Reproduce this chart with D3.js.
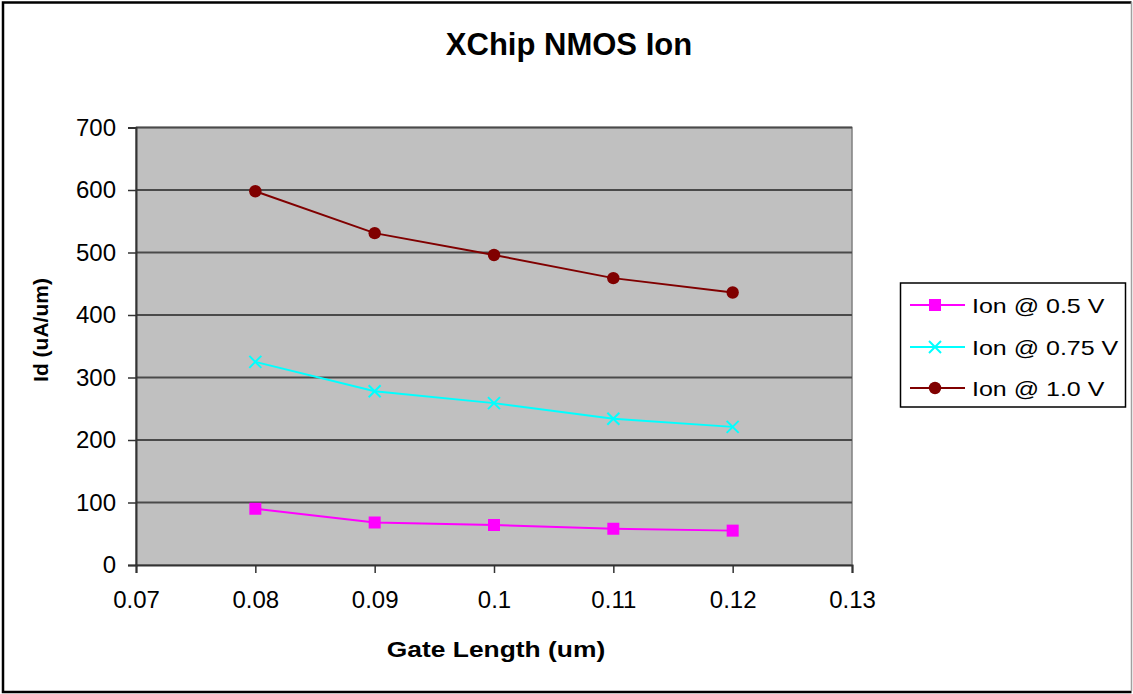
<!DOCTYPE html>
<html>
<head>
<meta charset="utf-8">
<script src="https://cdn.jsdelivr.net/npm/d3@7/dist/d3.min.js"></script>
<style>
  html, body { margin: 0; padding: 0; background: #fff; }
  svg { display: block; font-family: "Liberation Sans", Arial, sans-serif; }
</style>
</head>
<body>
<svg id="chart" width="1133" height="694"></svg>
<script>
// Gate lengths (um)
const gateLengths = [0.08, 0.09, 0.10, 0.11, 0.12];
// Drive current Id (uA/um) at each gate bias
const ion05  = [90, 68, 64, 58, 55];
const ion075 = [325, 278, 259, 234, 221];
const ion10  = [598, 531, 496, 459, 436];

const seriesNames = ["Ion @ 0.5 V", "Ion @ 0.75 V", "Ion @ 1.0 V"];
const xTicks = [0.07, 0.08, 0.09, 0.10, 0.11, 0.12, 0.13];
const yTicks = [0, 100, 200, 300, 400, 500, 600, 700];

const series = [
  { name: seriesNames[0], values: ion05,  color: "#ff00ff", marker: "square" },
  { name: seriesNames[1], values: ion075, color: "#00ffff", marker: "cross" },
  { name: seriesNames[2], values: ion10,  color: "#800000", marker: "circle" }
];

const svg = d3.select("#chart");
const W = 1133, H = 694;
const plot = { left: 136, top: 127.5, right: 852, bottom: 565 };

// outer frame: black on top, left, bottom; grey on the right
const frame = svg.append("g");
frame.append("rect").attr("x", 0).attr("y", 0).attr("width", W).attr("height", H).attr("fill", "#fff");
frame.append("path").attr("d", `M${W - 1.5},2.5H3V${H - 2}H${W - 1.5}`)
  .attr("fill", "none").attr("stroke", "#000").attr("stroke-width", 2.5);
frame.append("line").attr("x1", W - 1.5).attr("x2", W - 1.5).attr("y1", 2).attr("y2", H - 3)
  .attr("stroke", "#a0a0a0").attr("stroke-width", 1.5);

const x = d3.scaleLinear().domain([0.07, 0.13]).range([plot.left, plot.right]);
const y = d3.scaleLinear().domain([0, 700]).range([plot.bottom, plot.top]);

// plot background
svg.append("rect")
  .attr("x", plot.left).attr("y", plot.top)
  .attr("width", plot.right - plot.left).attr("height", plot.bottom - plot.top)
  .attr("fill", "#c0c0c0").attr("stroke", "#808080").attr("stroke-width", 1.5);

// horizontal gridlines
svg.append("g").selectAll("line").data(yTicks.filter(d => d > 0)).join("line")
  .attr("x1", plot.left).attr("x2", plot.right)
  .attr("y1", d => y(d)).attr("y2", d => y(d))
  .attr("stroke", "#4a4a4a").attr("stroke-width", 2);

// y axis
const yAxis = svg.append("g").attr("transform", `translate(${plot.left},0)`)
  .call(d3.axisLeft(y).tickValues(yTicks).tickSize(8).tickPadding(12).tickFormat(d3.format("d")));
yAxis.select(".domain").attr("stroke", "#333").attr("stroke-width", 2);
yAxis.selectAll(".tick line").attr("stroke", "#333").attr("stroke-width", 1.5);
yAxis.selectAll(".tick text").attr("font-size", 24).attr("fill", "#000")
  .attr("font-family", "Liberation Sans, Arial, sans-serif");

// x axis
const xAxis = svg.append("g").attr("transform", `translate(0,${plot.bottom})`)
  .call(d3.axisBottom(x).tickValues(xTicks).tickSize(8).tickPadding(18).tickFormat(d => d3.format("")(+d.toFixed(2))));
xAxis.select(".domain").attr("stroke", "#333").attr("stroke-width", 2);
xAxis.selectAll(".tick line").attr("stroke", "#333").attr("stroke-width", 1.5);
xAxis.selectAll(".tick text").attr("font-size", 24).attr("fill", "#000")
  .attr("font-family", "Liberation Sans, Arial, sans-serif");

// series lines
const line = d3.line().x((d, i) => x(gateLengths[i])).y(d => y(d));
series.forEach(s => {
  svg.append("path").datum(s.values).attr("d", line)
    .attr("fill", "none").attr("stroke", s.color).attr("stroke-width", 2);
});

function drawMarker(g, type, color, cx, cy) {
  if (type === "square") {
    g.append("rect").attr("x", cx - 6).attr("y", cy - 6).attr("width", 12).attr("height", 12).attr("fill", color);
  } else if (type === "circle") {
    g.append("circle").attr("cx", cx).attr("cy", cy).attr("r", 6.2).attr("fill", color);
  } else {
    const r = 6;
    g.append("path").attr("d", `M${cx - r},${cy - r}L${cx + r},${cy + r}M${cx - r},${cy + r}L${cx + r},${cy - r}`)
      .attr("stroke", color).attr("stroke-width", 2);
  }
}

const markers = svg.append("g");
series.forEach(s => {
  s.values.forEach((v, i) => drawMarker(markers, s.marker, s.color, x(gateLengths[i]), y(v)));
});

// title
svg.append("text").attr("x", 569).attr("y", 55).attr("text-anchor", "middle")
  .attr("font-size", 31).attr("font-weight", "bold").text("XChip NMOS Ion");

// axis titles (the horizontal ones are drawn slightly widened)
svg.append("text").attr("transform", "translate(496,657) scale(1.2,1)").attr("text-anchor", "middle")
  .attr("font-size", 22).attr("font-weight", "bold").text("Gate Length (um)");
svg.append("text").attr("transform", "translate(48,330) rotate(-90)").attr("text-anchor", "middle")
  .attr("font-size", 21).attr("font-weight", "bold").text("Id (uA/um)");

// legend
const legend = svg.append("g");
legend.append("rect").attr("x", 900.5).attr("y", 283).attr("width", 225).attr("height", 124)
  .attr("fill", "#fff").attr("stroke", "#000").attr("stroke-width", 1.5);
const legendY = [305, 347, 388];
series.forEach((s, i) => {
  const ly = legendY[i];
  legend.append("line").attr("x1", 910).attr("x2", 965).attr("y1", ly).attr("y2", ly)
    .attr("stroke", s.color).attr("stroke-width", 2);
  drawMarker(legend, s.marker, s.color, 935, ly);
  legend.append("text").attr("transform", `translate(972,${ly + 8}) scale(1.19,1)`)
    .attr("font-size", 21).text(s.name);
});
</script>
</body>
</html>
